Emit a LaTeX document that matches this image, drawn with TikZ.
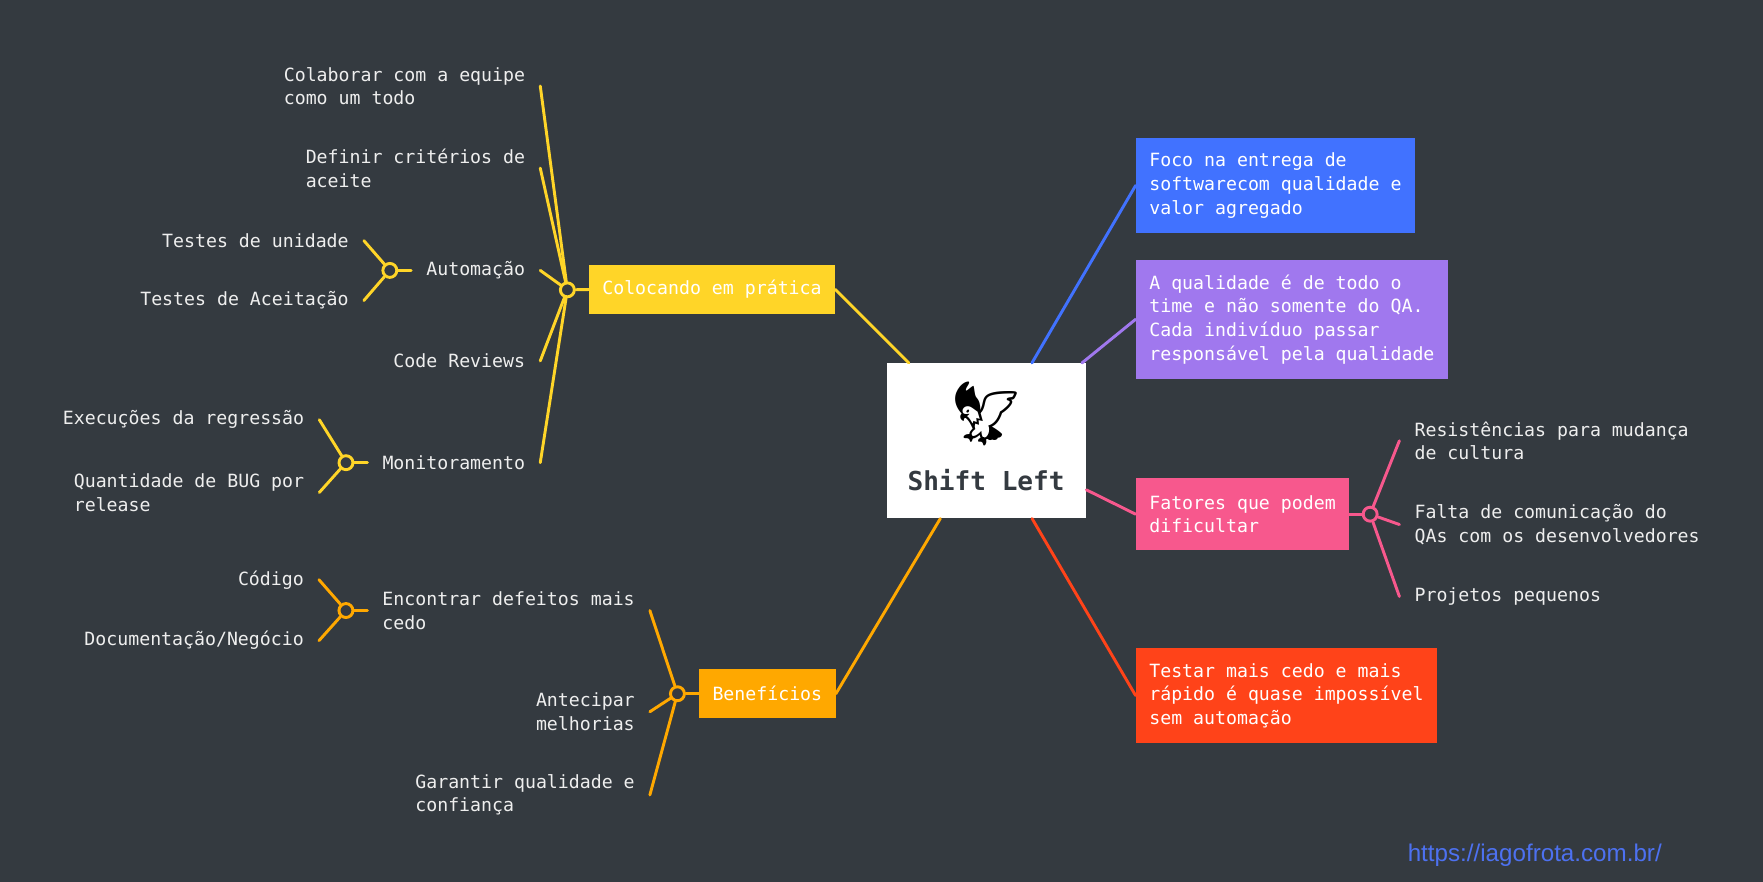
\documentclass[tikz,border=0pt]{standalone}
\usepackage{fontspec}
\usetikzlibrary{positioning,calc}
\newfontfamily\mapfont{DejaVu Sans Mono}
\newfontfamily\emojifont{Noto Emoji}
\newfontfamily\urlfont{Liberation Sans}
\definecolor{bgdark}{RGB}{52,58,64}
\definecolor{mapyellow}{RGB}{255,213,40}
\definecolor{maporange}{RGB}{255,168,0}
\definecolor{mapblue}{RGB}{65,114,255}
\definecolor{mappurple}{RGB}{160,120,238}
\definecolor{mappink}{RGB}{247,88,141}
\definecolor{mapred}{RGB}{255,67,25}
\definecolor{leafgray}{RGB}{238,238,238}
\definecolor{urlblue}{RGB}{77,113,240}

\begin{document}
\begin{tikzpicture}[x=1pt, y=-1pt,
  txt/.style={font=\mapfont\fontsize{16.2}{21}\selectfont},
  topic/.style 2 args={txt, fill=#1, text=white, align=left, inner xsep=12pt, inner ysep=0pt, minimum height=#2, anchor=west},
  leaf/.style={txt, text=leafgray, align=left, inner sep=0pt, outer xsep=13.5pt},
  hub/.style={circle, draw=#1, fill=bgdark, line width=2.6pt, minimum size=12.4pt, inner sep=0pt},
  link/.style={draw=#1, line width=2.6pt, line cap=round}]
  \useasboundingbox (0,0) rectangle (1568,784);
  \fill[bgdark] (0,0) rectangle (1568,784);

  \node[fill=white, minimum width=177pt, minimum height=138pt] (center) at (877.5,392) {};
  \node (eagle) at (877,368) {\emojifont\fontsize{56}{56}\selectfont 🦅};
  \node[text=bgdark, font=\mapfont\bfseries\fontsize{23.2}{26}\selectfont] (title) at (877,427) {Shift Left};

  % colocando em pratica
  \node[topic={mapyellow}{44pt}] (practice) at (523.5,257.5) {Colocando em prática};
  \node[hub=mapyellow] (practiceHub) at (504.6,257.8) {};
  \node[leaf, anchor=east] (collab) at (480.5,76.5) {Colaborar com a equipe\\como um todo};
  \node[leaf, anchor=east] (criteria) at (480.5,149.5) {Definir critérios de\\aceite};
  \node[leaf, anchor=east] (automation) at (480.5,240.5) {Automação};
  \node[leaf, anchor=east] (review) at (480.5,321) {Code Reviews};
  \node[leaf, anchor=east] (monitor) at (480.5,411.5) {Monitoramento};
  \node[hub=mapyellow] (automationHub) at ($(automation.west)+(-19,0)$) {};
  \node[leaf, anchor=east] (unitTests) at (323.6,214) {Testes de unidade};
  \node[leaf, anchor=east] (acceptTests) at (323.6,267.3) {Testes de Aceitação};
  \node[hub=mapyellow] (monitorHub) at ($(monitor.west)+(-19,0)$) {};
  \node[leaf, anchor=east] (runs) at (284,373.3) {Execuções da regressão};
  \node[leaf, anchor=east] (bugs) at (284,438) {Quantidade de BUG por\\release};

  % beneficios
  \node[topic={maporange}{44pt}] (benefits) at (621.5,617) {Benefícios};
  \node[hub=maporange] (benefitsHub) at (602.5,617) {};
  \node[leaf, anchor=east] (earlier) at (578,543) {Encontrar defeitos mais\\cedo};
  \node[leaf, anchor=east] (improve) at (578,633) {Antecipar\\melhorias};
  \node[leaf, anchor=east] (trust) at (578,707) {Garantir qualidade e\\confiança};
  \node[hub=maporange] (earlierHub) at ($(earlier.west)+(-19,0)$) {};
  \node[leaf, anchor=east] (code) at (283.7,515.6) {Código};
  \node[leaf, anchor=east] (docs) at (283.7,569.8) {Documentação/Negócio};

  % lado direito
  \node[topic={mapblue}{84pt}] (focus) at (1010,165) {Foco na entrega de\\softwarecom qualidade e\\valor agregado};
  \node[topic={mappurple}{105.6pt}] (team) at (1010,284) {A qualidade é de todo o\\time e não somente do QA.\\Cada indivíduo passar\\responsável pela qualidade};
  \node[topic={mappink}{64.3pt}] (factors) at (1010,457.3) {Fatores que podem\\dificultar};
  \node[hub=mappink] (factorsHub) at (1218.6,457.3) {};
  \node[leaf, anchor=west] (resist) at (1244.6,392) {Resistências para mudança\\de cultura};
  \node[leaf, anchor=west] (comms) at (1244.6,466.5) {Falta de comunicação do\\QAs com os desenvolvedores};
  \node[leaf, anchor=west] (small) at (1244.6,530.5) {Projetos pequenos};
  \node[topic={mapred}{84.4pt}] (faster) at (1010,618.6) {Testar mais cedo e mais\\rápido é quase impossível\\sem automação};

  \node[text=urlblue, font=\urlfont\fontsize{21.5}{24}\selectfont] (url) at (1365,761) {https://iagofrota.com.br/};

  \draw[link=mapyellow] (practice.east) -- (center);
  \draw[link=mapyellow] (practiceHub) -- (practice.west);
  \draw[link=mapyellow] (practiceHub) -- (collab.east);
  \draw[link=mapyellow] (practiceHub) -- (criteria.east);
  \draw[link=mapyellow] (practiceHub) -- (automation.east);
  \draw[link=mapyellow] (practiceHub) -- (review.east);
  \draw[link=mapyellow] (practiceHub) -- (monitor.east);
  \draw[link=mapyellow] (automationHub) -- (automation.west);
  \draw[link=mapyellow] (automationHub) -- (unitTests.east);
  \draw[link=mapyellow] (automationHub) -- (acceptTests.east);
  \draw[link=mapyellow] (monitorHub) -- (monitor.west);
  \draw[link=mapyellow] (monitorHub) -- (runs.east);
  \draw[link=mapyellow] (monitorHub) -- (bugs.east);

  \draw[link=maporange] (benefits.east) -- (center);
  \draw[link=maporange] (benefitsHub) -- (benefits.west);
  \draw[link=maporange] (benefitsHub) -- (earlier.east);
  \draw[link=maporange] (benefitsHub) -- (improve.east);
  \draw[link=maporange] (benefitsHub) -- (trust.east);
  \draw[link=maporange] (earlierHub) -- (earlier.west);
  \draw[link=maporange] (earlierHub) -- (code.east);
  \draw[link=maporange] (earlierHub) -- (docs.east);

  \draw[link=mapblue] (focus.west) -- (center);
  \draw[link=mappurple] (team.west) -- (center);
  \draw[link=mappink] (factors.west) -- (center);
  \draw[link=mappink] (factorsHub) -- (factors.east);
  \draw[link=mappink] (factorsHub) -- (resist.west);
  \draw[link=mappink] (factorsHub) -- (comms.west);
  \draw[link=mappink] (factorsHub) -- (small.west);
  \draw[link=mapred] (faster.west) -- (center);
\end{tikzpicture}
\end{document}
